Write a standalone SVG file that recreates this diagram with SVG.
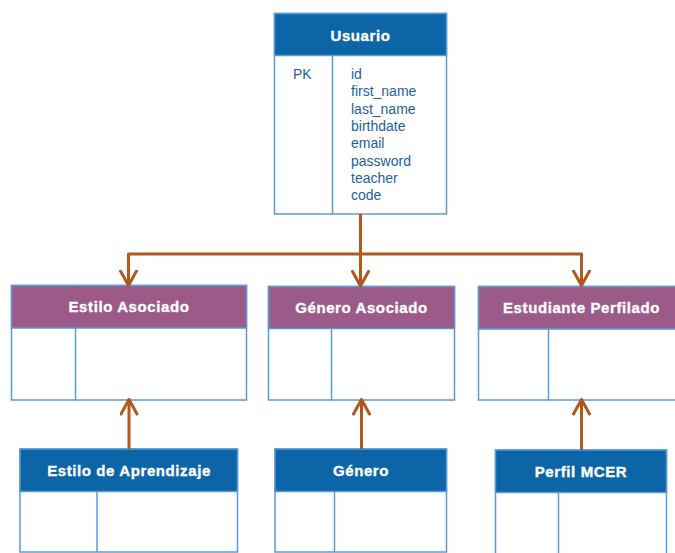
<svg xmlns="http://www.w3.org/2000/svg" width="675" height="553" viewBox="0 0 675 553">
  <style>
    .frame { fill: #ffffff; stroke: #5B9BD5; stroke-width: 1.5; }
    .hdr-blue { fill: #0B65A6; stroke: #5B9BD5; stroke-width: 1.5; }
    .hdr-purple { fill: #9C5A89; stroke: #5B9BD5; stroke-width: 1.5; }
    .div { stroke: #5B9BD5; stroke-width: 1.5; fill: none; }
    .title { font-family: "Liberation Sans", Arial, sans-serif; font-weight: bold; font-size: 15px; letter-spacing: 0.6px; fill: #ffffff; stroke: #ffffff; stroke-width: 0.35; text-anchor: middle; }
    .field { font-family: "Liberation Sans", Arial, sans-serif; font-size: 14px; fill: #1F5E9C; }
    .link { stroke: #B0581F; stroke-width: 3; fill: none; stroke-linejoin: round; }
  </style>
  <defs>
    <!-- open chevron arrowhead, drawn along +x so orient="auto" turns it with the line -->
    <marker id="chev" viewBox="0 0 18 19" refX="16" refY="9.5" markerUnits="userSpaceOnUse" markerWidth="18" markerHeight="19" orient="auto-start-reverse">
      <path d="M1.5,1.5 L16,9.5 L1.5,17.5" fill="none" stroke="#B0581F" stroke-width="3" stroke-linecap="round" stroke-linejoin="round"/>
    </marker>
  </defs>

  <!-- Usuario -->
  <g id="usuario">
    <rect class="frame" x="274.5" y="13.5" width="172" height="200.5"/>
    <rect class="hdr-blue" x="274.5" y="13.5" width="172" height="42"/>
    <line class="div" x1="332.5" y1="55.5" x2="332.5" y2="214"/>
    <text class="title" x="360.5" y="40.5">Usuario</text>
    <text class="field" x="293" y="79">PK</text>
    <text class="field" x="351" y="79">id</text>
    <text class="field" x="351" y="96">first_name</text>
    <text class="field" x="351" y="113.5">last_name</text>
    <text class="field" x="351" y="131">birthdate</text>
    <text class="field" x="351" y="148">email</text>
    <text class="field" x="351" y="165.5">password</text>
    <text class="field" x="351" y="182.5">teacher</text>
    <text class="field" x="351" y="200">code</text>
  </g>

  <!-- Estilo Asociado -->
  <g id="estilo-asociado">
    <rect class="frame" x="11.5" y="285.5" width="235" height="114.5"/>
    <rect class="hdr-purple" x="11.5" y="285.5" width="235" height="42.5"/>
    <line class="div" x1="75.5" y1="328" x2="75.5" y2="400"/>
    <text class="title" x="129" y="312">Estilo Asociado</text>
  </g>

  <!-- Género Asociado -->
  <g id="genero-asociado">
    <rect class="frame" x="268.5" y="286.5" width="186" height="113.5"/>
    <rect class="hdr-purple" x="268.5" y="286.5" width="186" height="42"/>
    <line class="div" x1="331.5" y1="328.5" x2="331.5" y2="400"/>
    <text class="title" x="361.5" y="312.5">Género Asociado</text>
  </g>

  <!-- Estudiante Perfilado -->
  <g id="estudiante-perfilado">
    <rect class="frame" x="478.5" y="286.5" width="210" height="113.5"/>
    <rect class="hdr-purple" x="478.5" y="286.5" width="210" height="42.5"/>
    <line class="div" x1="548.5" y1="329" x2="548.5" y2="400"/>
    <text class="title" x="581.5" y="312.5">Estudiante Perfilado</text>
  </g>

  <!-- Estilo de Aprendizaje -->
  <g id="estilo-aprendizaje">
    <rect class="frame" x="20" y="449" width="217.5" height="103"/>
    <rect class="hdr-blue" x="20" y="449" width="217.5" height="42.5"/>
    <line class="div" x1="97" y1="491.5" x2="97" y2="552"/>
    <text class="title" x="129" y="476">Estilo de Aprendizaje</text>
  </g>

  <!-- Género -->
  <g id="genero">
    <rect class="frame" x="275" y="449" width="171.5" height="103"/>
    <rect class="hdr-blue" x="275" y="449" width="171.5" height="42.5"/>
    <line class="div" x1="334.5" y1="491.5" x2="334.5" y2="552"/>
    <text class="title" x="361" y="476">Género</text>
  </g>

  <!-- Perfil MCER -->
  <g id="perfil-mcer">
    <rect class="frame" x="495.5" y="450" width="171" height="110"/>
    <rect class="hdr-blue" x="495.5" y="450" width="171" height="42.5"/>
    <line class="div" x1="558.5" y1="492.5" x2="558.5" y2="560"/>
    <text class="title" x="581" y="477">Perfil MCER</text>
  </g>

  <!-- Connectors -->
  <g id="connectors">
    <line class="link" x1="360.5" y1="214" x2="360.5" y2="254"/>
    <path class="link" d="M128.5,285.5 V254 H581.5 V285.5" marker-start="url(#chev)" marker-end="url(#chev)"/>
    <line class="link" x1="360.5" y1="254" x2="360.5" y2="286" marker-end="url(#chev)"/>
    <line class="link" x1="129" y1="449" x2="129" y2="399.5" marker-end="url(#chev)"/>
    <line class="link" x1="361.5" y1="449" x2="361.5" y2="399.5" marker-end="url(#chev)"/>
    <line class="link" x1="581.5" y1="450" x2="581.5" y2="399.5" marker-end="url(#chev)"/>
  </g>
</svg>
